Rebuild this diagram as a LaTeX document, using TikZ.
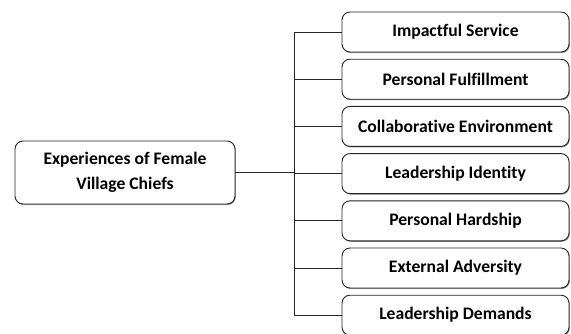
\documentclass[tikz,border=0pt]{standalone}
\usepackage{fontspec}
\setmainfont{Carlito}[Ligatures=NoCommon]
\usetikzlibrary{shadows}
\begin{document}
\begin{tikzpicture}[x=1pt,y=1pt,
  box/.style={draw=black!85, line width=0.9pt, rounded corners=8pt, fill=white,
    font=\bfseries\fontsize{17.6}{25}\selectfont, align=center,
    drop shadow={shadow xshift=0.8pt, shadow yshift=-1pt, fill=black!45, opacity=1}},
  item/.style={box, minimum width=227pt, minimum height=40pt},
  conn/.style={draw=black!85, line width=0.9pt}]
\useasboundingbox (0,0) rectangle (571,333);
\node[box, minimum width=220pt, minimum height=63pt] (root) at (125,160.5) {Experiences of Female\\Village Chiefs};
\foreach \i/\t in {1/Impactful Service,2/Personal Fulfillment,3/Collaborative Environment,4/Leadership Identity,5/Personal Hardship,6/External Adversity,7/Leadership Demands}{
  \node[item] (b\i) at (455.5,{333-32-(\i-1)*47.2}) {\t};
}
\coordinate (top) at (294,{333-32});
\coordinate (bot) at (294,{333-32-6*47.2});
\coordinate (mid) at (294,160.5);
\draw[conn] (top) -- (bot);
\draw[conn] (root.east) -- (mid);
\foreach \i in {1,...,7}{
  \draw[conn] (b\i.west -| top) -- (b\i.west);
}
\end{tikzpicture}
\end{document}
